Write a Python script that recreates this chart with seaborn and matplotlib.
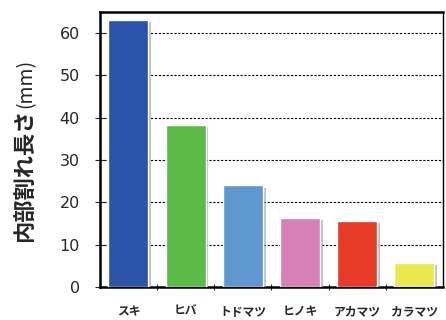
import matplotlib
matplotlib.use("Agg")
import matplotlib.pyplot as plt
import matplotlib.patheffects as pe
from matplotlib.ticker import FixedLocator
import seaborn as sns
import pandas as pd

species = ["スキ", "ヒバ", "トドマツ", "ヒノキ", "アカマツ", "カラマツ"]
crack_length = [63.0, 38.3, 24.0, 16.4, 15.7, 5.7]
bar_colors = ["#2b53a9", "#5cbb46", "#5e98d1", "#d880b8", "#e63b26", "#e9e84c"]
y_ticks = [0, 10, 20, 30, 40, 50, 60]

sns.set_theme(style="white")
plt.rcParams["font.family"] = ["Noto Sans CJK JP", "DejaVu Sans"]

df = pd.DataFrame({"species": species, "length": crack_length})

fig = plt.figure(figsize=(4.46, 3.20), dpi=100)
ax = fig.add_axes([0.224, 0.103, 0.769, 0.860])

sns.barplot(data=df, x="species", y="length", hue="species",
            palette=bar_colors, width=0.7, legend=False, ax=ax,
            saturation=1, zorder=3)

# soft grey drop shadow behind each bar
for p in ax.patches:
    p.set_path_effects([pe.SimplePatchShadow(offset=(2, -1.5), shadow_rgbFace="#9a9a9a", alpha=0.6),
                        pe.Normal()])

ax.set_ylim(0, 65)
ax.set_xlim(-0.5, len(species) - 0.5)
ax.set_yticks(y_ticks)
ax.set_yticklabels([str(v) for v in y_ticks], fontsize=11.5, family="DejaVu Sans")
ax.yaxis.grid(True, linestyle=(0, (2, 1.5)), color="black", linewidth=0.8, zorder=0)
ax.set_axisbelow(True)

ax.tick_params(axis="y", direction="inout", length=7, width=0.8, left=True, pad=11)
ax.tick_params(axis="x", length=0, pad=13)
ax.xaxis.set_minor_locator(FixedLocator([i + 0.5 for i in range(len(species) - 1)]))
ax.tick_params(axis="x", which="minor", direction="inout", length=5, width=0.8, bottom=True)
for lbl in ax.get_xticklabels():
    lbl.set_fontsize(8.5)
    lbl.set_fontweight("bold")

ax.set_xlabel("")
ax.set_ylabel("")

# y-axis title: bold Japanese part followed by the unit in regular weight
title_x = -0.216
t1 = ax.text(title_x, 0.164, "内部割れ長さ", rotation=90, ha="center", va="bottom",
             fontsize=16, fontweight="bold", transform=ax.transAxes)
fig.canvas.draw()
bb = t1.get_window_extent().transformed(ax.transAxes.inverted())
ax.text(title_x, bb.y1, "(mm)", rotation=90, ha="center", va="bottom",
        fontsize=14, fontweight="normal", transform=ax.transAxes)

for side in ["left", "bottom", "top"]:
    ax.spines[side].set_linewidth(1.8)
    ax.spines[side].set_color("black")
ax.spines["right"].set_linewidth(1.0)
ax.spines["right"].set_color("black")

fig.savefig("out.png", dpi=100)
